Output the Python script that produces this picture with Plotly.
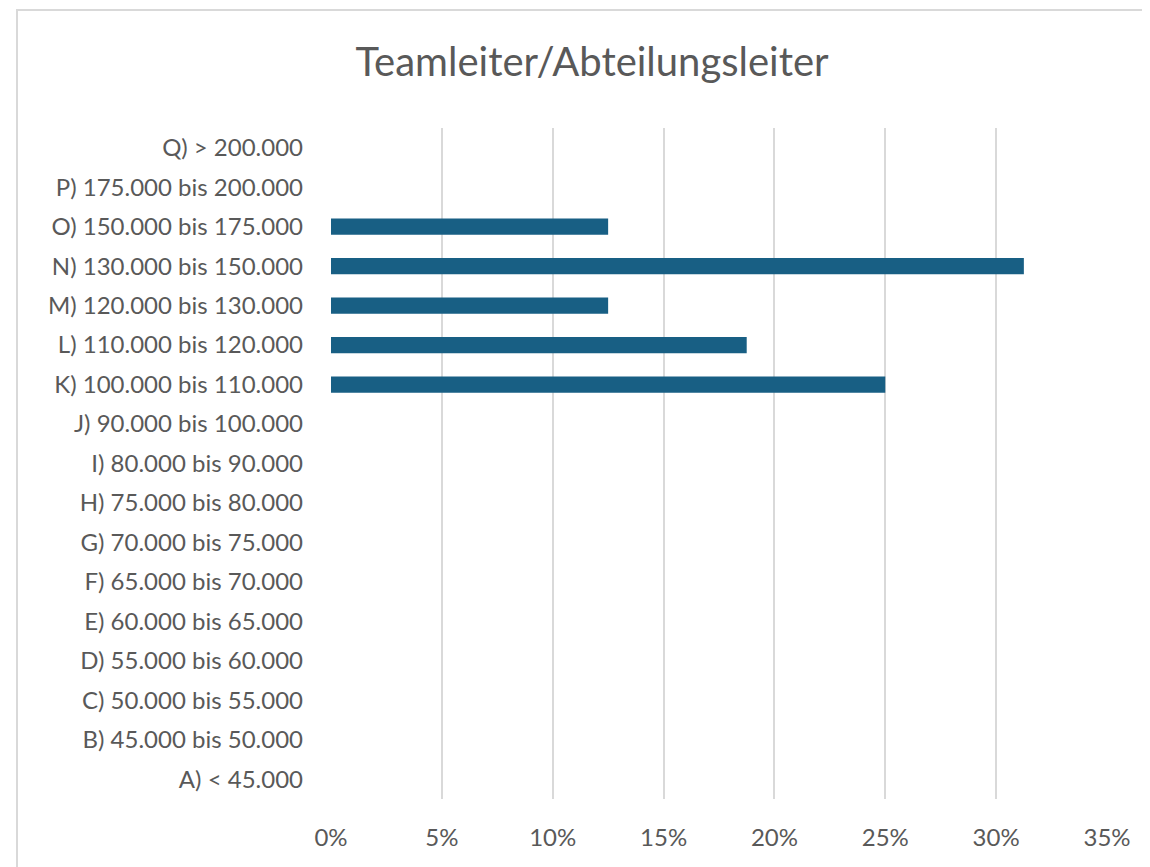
import plotly.graph_objects as go

categories = ['A) < 45.000', 'B) 45.000 bis 50.000', 'C) 50.000 bis 55.000', 'D) 55.000 bis 60.000',
              'E) 60.000 bis 65.000', 'F) 65.000 bis 70.000', 'G) 70.000 bis 75.000', 'H) 75.000 bis 80.000',
              'I) 80.000 bis 90.000', 'J) 90.000 bis 100.000', 'K) 100.000 bis 110.000',
              'L) 110.000 bis 120.000', 'M) 120.000 bis 130.000', 'N) 130.000 bis 150.000',
              'O) 150.000 bis 175.000', 'P) 175.000 bis 200.000', 'Q) > 200.000']
shares = [0, 0, 0, 0, 0, 0, 0, 0, 0, 0, 0.25, 0.1875, 0.125, 0.3125, 0.125, 0, 0]
x_ticks = [0, 0.05, 0.10, 0.15, 0.20, 0.25, 0.30, 0.35]
x_labels = ['0%', '5%', '10%', '15%', '20%', '25%', '30%', '35%']

# page has an 8px body margin, so the figure starts at (8, 8)
W, H = 1142, 859
L, R, T, B = 323, 43, 120, 68
grey = '#595959'

fig = go.Figure(go.Bar(x=shares, y=categories, orientation='h',
                       marker=dict(color='#185f84', line=dict(width=0))))

# outer chart frame: only left and top edges show in the screenshot
pw, ph = W - L - R, H - T - B
fx0 = (9 - L) / pw
fx1 = (W + 50 - L) / pw
fy0 = (H - B - (H + 50)) / ph
fy1 = (H - B - 2) / ph
fig.add_shape(type='path', xref='paper', yref='paper', layer='below',
              path=f'M {fx0},{fy0} L {fx0},{fy1} L {fx1},{fy1}',
              line=dict(color='#d9d9d9', width=2))

fig.update_layout(
    width=W, height=H,
    margin=dict(l=L, r=R, t=T, b=B),
    paper_bgcolor='white', plot_bgcolor='white',
    font=dict(family='Lato', color=grey, size=24),
    title=dict(text='Teamleiter/Abteilungsleiter', x=584 / W, xanchor='center',
               y=1 - 54 / H, yanchor='middle', font=dict(size=40, color=grey)),
    bargap=0.59,
    showlegend=False,
)
fig.update_xaxes(range=[0, 0.35], tickvals=x_ticks, ticktext=x_labels,
                 showgrid=True, gridcolor='#d9d9d9', gridwidth=2,
                 zeroline=False, showline=False, ticks='', ticklabelstandoff=22,
                 tickfont=dict(size=24, color=grey))
fig.update_yaxes(categoryorder='array', categoryarray=categories,
                 showgrid=False, zeroline=False, showline=False, ticks='',
                 ticklabelstandoff=27, tickfont=dict(size=24, color=grey))

# hide page scrollbars so the frame runs to the window edge
fig.write_html("out.html", post_script="document.body.style.overflow = 'hidden';")
